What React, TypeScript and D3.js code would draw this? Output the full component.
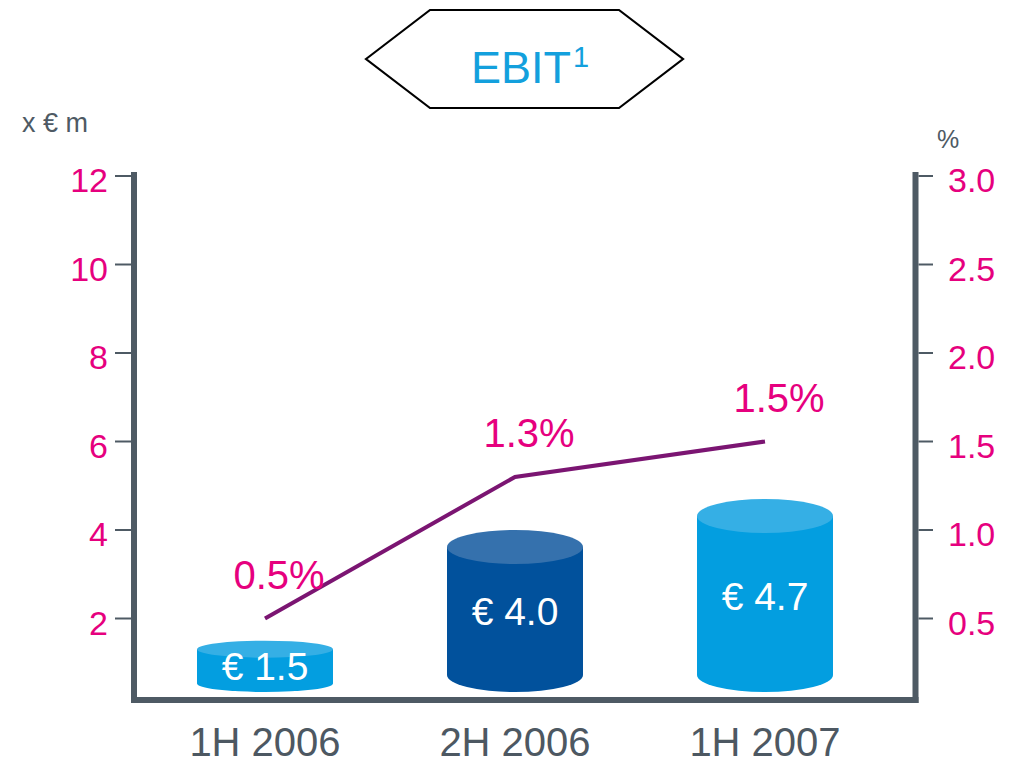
import React from 'react';
import * as d3 from 'd3';

// chart values
const periods = ['1H 2006', '2H 2006', '1H 2007'];
const ebit = [1.5, 4.0, 4.7];
const ebitLabels = ['€ 1.5', '€ 4.0', '€ 4.7'];
const margins = [0.5, 1.3, 1.5];
const marginLabels = ['0.5%', '1.3%', '1.5%'];
const leftTicks = [2, 4, 6, 8, 10, 12];
const rightTicks = [0.5, 1.0, 1.5, 2.0, 2.5, 3.0];

const barBody = ['#039ee0', '#01519c', '#039ee0'];
const barTop = ['#35afe5', '#3571ad', '#35afe5'];

const W = 1017, H = 769;
const axisColor = '#4e5a64';
const pink = '#e6007e';
const font = '"Liberation Sans", Arial, sans-serif';

const App = () => {
  const yL = d3.scaleLinear().domain([0, 12]).range([707, 176]);
  const yR = d3.scaleLinear().domain([0, 3]).range([707, 176]);
  const x = d3.scaleBand().domain(periods).range([140, 890])
    .paddingInner(0.456).paddingOuter(0.228);

  const bw = x.bandwidth();
  const rx = bw / 2;
  const bottom = yL(0) - 15;

  const line = d3.line<number>()
    .x((d, i) => x(periods[i])! + bw / 2)
    .y(d => yR(d));

  // hexagon title frame
  const hex = [[366, 59], [430, 10], [619, 10], [683, 59], [619, 108], [430, 108]];

  return (
    <div style={{ position: 'absolute', left: 0, top: 0 }}>
      <svg width={W} height={H} style={{ display: 'block', fontFamily: font }}>
        <rect width={W} height={H} fill="#fff" />

        <polygon points={hex.map(p => p.join(',')).join(' ')} fill="#fff" stroke="#000" strokeWidth={2.2} />
        <text x={471} y={83} fontSize={45} fill="#13a0dd">EBIT<tspan fontSize={29} dy={-16} dx={2}>1</tspan></text>

        <text x={22} y={132} fontSize={27} fill={axisColor}>x € m</text>
        <text x={937} y={148} fontSize={25} fill={axisColor}>%</text>

        {/* cylinders */}
        {ebit.map((v, i) => {
          const x0 = x(periods[i])!;
          const x1 = x0 + bw;
          const top = yL(v);
          const ry = Math.min(17, (bottom - top) / 6);
          const cy1 = top + ry;
          const cy2 = bottom - ry;
          const body = `M${x0},${cy1} L${x0},${cy2} A${rx},${ry} 0 0 0 ${x1},${cy2} L${x1},${cy1} Z`;
          return (
            <g key={periods[i]}>
              <path d={body} fill={barBody[i]} />
              <ellipse cx={x0 + rx} cy={cy1} rx={rx} ry={ry} fill={barTop[i]} />
              <text x={x0 + rx} y={(cy1 + cy2) / 2 + 14} fontSize={39} fill="#fff" textAnchor="middle">{ebitLabels[i]}</text>
            </g>
          );
        })}

        {/* axes */}
        <line x1={134} x2={134} y1={172} y2={703} stroke={axisColor} strokeWidth={6} />
        <line x1={915.5} x2={915.5} y1={172} y2={703} stroke={axisColor} strokeWidth={6} />
        <line x1={131} x2={918.5} y1={700} y2={700} stroke={axisColor} strokeWidth={6} />

        {leftTicks.map(t => (
          <g key={'l' + t}>
            <line x1={115} x2={131} y1={yL(t)} y2={yL(t)} stroke={axisColor} strokeWidth={2} />
            <text x={108} y={yL(t) + 16} fontSize={34} fill={pink} textAnchor="end">{t}</text>
          </g>
        ))}
        {rightTicks.map(t => (
          <g key={'r' + t}>
            <line x1={918.5} x2={933} y1={yR(t)} y2={yR(t)} stroke={axisColor} strokeWidth={2} />
            <text x={948} y={yR(t) + 16} fontSize={34} fill={pink}>{t.toFixed(1)}</text>
          </g>
        ))}

        {periods.map(p => (
          <text key={p} x={x(p)! + bw / 2} y={756} fontSize={40} fill="#4d5862" textAnchor="middle">{p}</text>
        ))}

        {/* margin line */}
        <path d={line(margins)!} fill="none" stroke="#7b1572" strokeWidth={4} />
        {margins.map((m, i) => (
          <text key={'m' + i} x={x(periods[i])! + bw / 2 + 14} y={yR(m) - 30} fontSize={40} fill={pink} textAnchor="middle">{marginLabels[i]}</text>
        ))}
      </svg>
    </div>
  );
};

export default App;
